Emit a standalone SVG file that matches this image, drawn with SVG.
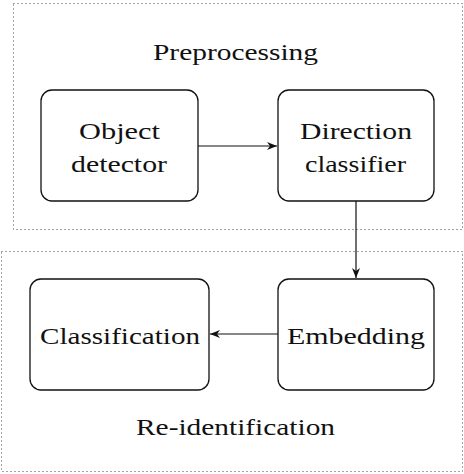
<svg xmlns="http://www.w3.org/2000/svg" width="464" height="474" viewBox="0 0 464 474">
<style>
.grp{fill:none;stroke:#333;stroke-width:0.9;stroke-dasharray:1 3}
.box{fill:#fff;stroke:#111;stroke-width:1.3}
.t{font-family:"Liberation Serif","Times New Roman",serif;font-size:24px;fill:#111;text-anchor:start}
.edge{stroke:#111;stroke-width:1.2;fill:none}
</style>
<defs>
<marker id="arr" viewBox="0 0 10 8" refX="10" refY="4" markerWidth="10" markerHeight="8" markerUnits="userSpaceOnUse" orient="auto">
<path d="M0,0 L10,4 L0,8 L3,4 Z" fill="#111"/>
</marker>
</defs>
<rect width="464" height="474" fill="#fff"/>
<g id="preprocessing">
<rect class="grp" x="13.5" y="3.5" width="449" height="226"/>
<text class="t" x="153" y="60" textLength="165" lengthAdjust="spacingAndGlyphs">Preprocessing</text>
</g>
<g id="reidentification">
<rect class="grp" x="1.5" y="251.5" width="461" height="220"/>
<text class="t" x="136" y="435" textLength="199" lengthAdjust="spacingAndGlyphs">Re-identification</text>
</g>
<g id="object-detector">
<rect class="box" x="41" y="90" width="157" height="111" rx="11"/>
<text class="t" x="79" y="139" textLength="81" lengthAdjust="spacingAndGlyphs">Object</text>
<text class="t" x="71" y="172" textLength="96" lengthAdjust="spacingAndGlyphs">detector</text>
</g>
<g id="direction-classifier">
<rect class="box" x="278" y="90" width="156" height="111" rx="11"/>
<text class="t" x="300" y="139" textLength="112" lengthAdjust="spacingAndGlyphs">Direction</text>
<text class="t" x="305" y="172" textLength="101" lengthAdjust="spacingAndGlyphs">classifier</text>
</g>
<g id="classification">
<rect class="box" x="30" y="279" width="179" height="111" rx="11"/>
<text class="t" x="40" y="344" textLength="160" lengthAdjust="spacingAndGlyphs">Classification</text>
</g>
<g id="embedding">
<rect class="box" x="278" y="279" width="156" height="111" rx="11"/>
<text class="t" x="287" y="344" textLength="138" lengthAdjust="spacingAndGlyphs">Embedding</text>
</g>
<g id="connectors">
<line class="edge" x1="198" y1="146" x2="277" y2="146" marker-end="url(#arr)"/>
<line class="edge" x1="356" y1="201" x2="356" y2="278" marker-end="url(#arr)"/>
<line class="edge" x1="278" y1="334" x2="210" y2="334" marker-end="url(#arr)"/>
</g>
</svg>
